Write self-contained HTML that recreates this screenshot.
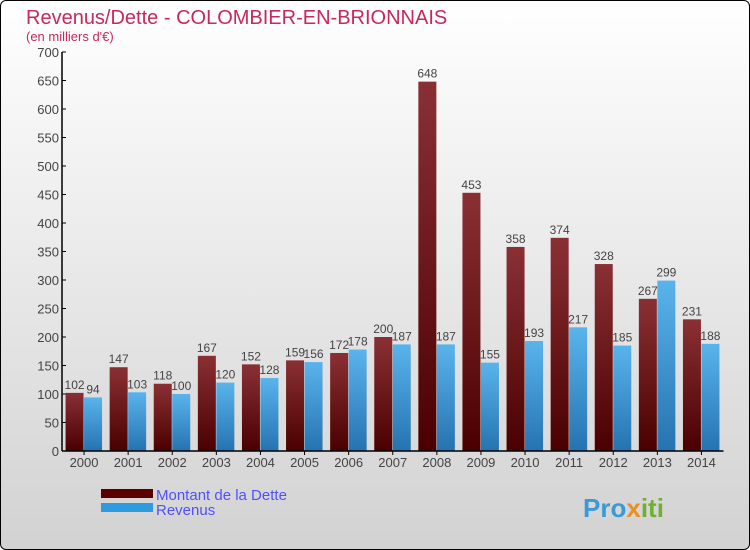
<!DOCTYPE html>
<html><head><meta charset="utf-8"><style>
body{margin:0}
#c{width:748px;height:548px;border:1px solid #000;border-radius:6px;background:linear-gradient(#ffffff,#d2d2d2);position:relative;overflow:hidden;font-family:"Liberation Sans",sans-serif}
</style></head><body>
<div id="c">
<svg id="s" width="748" height="548">
<defs>
<linearGradient id="gd" x1="0" y1="0" x2="0" y2="1"><stop offset="0" stop-color="#8a3034"/><stop offset="1" stop-color="#4a0000"/></linearGradient>
<linearGradient id="gr" x1="0" y1="0" x2="0" y2="1"><stop offset="0" stop-color="#5ab4ec"/><stop offset="1" stop-color="#2573b0"/></linearGradient>
</defs>
<text x="25" y="23" font-size="20" fill="#c8285a">Revenus/Dette - COLOMBIER-EN-BRIONNAIS</text>
<text x="25" y="40" font-size="13" fill="#c8285a">(en milliers d'€)</text>
<g id="g"></g>
<rect x="100" y="488" width="52" height="9" fill="#5a0000"/>
<rect x="100" y="502" width="52" height="9" fill="#2e9ae0"/>
<text x="155" y="499" font-size="15" fill="#5050ff">Montant de la Dette</text>
<text x="155" y="514" font-size="15" fill="#5050ff">Revenus</text>
<text x="582" y="516" font-size="26" font-weight="bold" fill="#3a9ad8">Pro<tspan fill="#e89020">x</tspan><tspan fill="#70b030">iti</tspan></text>
</svg>
</div>
<script>
const years=["2000","2001","2002","2003","2004","2005","2006","2007","2008","2009","2010","2011","2012","2013","2014"];
const dette=[102,147,118,167,152,159,172,200,648,453,358,374,328,267,231];
const revenus=[94,103,100,120,128,156,178,187,187,155,193,217,185,299,188];
const ticks=[0,50,100,150,200,250,300,350,400,450,500,550,600,650,700];
const x0=61,step=44.1,base=450,top0=51,maxV=700;
const y=v=>base-(v/maxV)*(base-top0);
const g=document.getElementById('g');const NS="http://www.w3.org/2000/svg";
function mk(t,a){const e=document.createElementNS(NS,t);for(const k in a)e.setAttribute(k,a[k]);g.appendChild(e);return e;}
ticks.forEach(t=>{
 const l=mk('line',{x1:x0,x2:x0+4,y1:y(t),y2:y(t),stroke:'#000'});
 
 
 const tx=mk('text',{x:x0-3,y:y(t)+5,'font-size':13,fill:'#444','text-anchor':'end'});tx.textContent=t;
 
 
});
years.forEach((yr,i)=>{
 const cx=x0+step*(i+0.5);
 const b1=mk('rect',{x:cx-18.5,y:y(dette[i]),width:18,height:base-y(dette[i]),fill:'url(#gd)'});
 
 
 const b2=mk('rect',{x:cx,y:y(revenus[i]),width:18,height:base-y(revenus[i]),fill:'url(#gr)'});
 
 
 const t1=mk('text',{x:cx-9.5,y:y(dette[i])-4,'font-size':12,fill:'#444','text-anchor':'middle'});t1.textContent=dette[i];
 
 
 const t2=mk('text',{x:cx+9,y:y(revenus[i])-4,'font-size':12,fill:'#444','text-anchor':'middle'});t2.textContent=revenus[i];
 
 
 const tk=mk('line',{x1:cx,x2:cx,y1:base,y2:base+4,stroke:'#000'});
 
 
 const xl=mk('text',{x:cx,y:base+16,'font-size':13,fill:'#444','text-anchor':'middle'});xl.textContent=yr;
 
 
});
const ya=mk('line',{x1:x0,x2:x0,y1:top0,y2:base,stroke:'#000','stroke-width':1.5});


const xa=mk('line',{x1:x0,x2:x0+step*15,y1:base,y2:base,stroke:'#000','stroke-width':1.5});


</script>
</body></html>
